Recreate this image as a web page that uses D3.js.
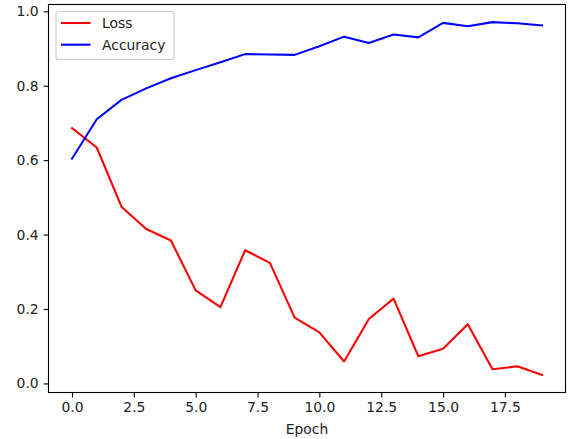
<!DOCTYPE html>
<html>
<head>
<meta charset="utf-8">
<script src="https://cdn.jsdelivr.net/npm/d3@7"></script>
<style>
html,body{margin:0;padding:0;background:#fff;}
text{font-family:"DejaVu Sans",sans-serif;}
</style>
</head>
<body>
<svg id="chart" width="572" height="439"></svg>
<script>
const epochs = d3.range(0, 20);
const loss = [0.686, 0.634, 0.475, 0.415, 0.384, 0.250, 0.205, 0.358, 0.324, 0.177, 0.137, 0.059, 0.173, 0.228, 0.073, 0.093, 0.159, 0.038, 0.046, 0.023];
const accuracy = [0.604, 0.710, 0.762, 0.793, 0.820, 0.842, 0.863, 0.885, 0.884, 0.883, 0.906, 0.932, 0.915, 0.938, 0.930, 0.969, 0.960, 0.971, 0.968, 0.962];
const xTicks = [0, 2.5, 5, 7.5, 10, 12.5, 15, 17.5];
const yTicks = [0, 0.2, 0.4, 0.6, 0.8, 1.0];
const seriesNames = ["Loss", "Accuracy"];
const seriesColors = ["#ff0000", "#0000ff"];

const svg = d3.select("#chart");
const L = 48.5, R = 565.5, T = 4.5, B = 392.5;

const xMin = d3.min(epochs), xMax = d3.max(epochs);
const xPad = (xMax - xMin) * 0.05;
const x = d3.scaleLinear().domain([xMin - xPad, xMax + xPad]).range([L, R]);
const all = loss.concat(accuracy);
const yMin = d3.min(all), yMax = d3.max(all);
const yPad = (yMax - yMin) * 0.05;
const y = d3.scaleLinear().domain([yMin - yPad, yMax + yPad]).range([B, T]);

// axes
const xAxis = d3.axisBottom(x).tickValues(xTicks).tickFormat(d3.format(".1f")).tickSize(4.9).tickPadding(4.9);
const yAxis = d3.axisLeft(y).tickValues(yTicks).tickFormat(d3.format(".1f")).tickSize(4.9).tickPadding(4.9);

const gx = svg.append("g").attr("transform", `translate(0,${B})`).call(xAxis);
const gy = svg.append("g").attr("transform", `translate(${L},0)`).call(yAxis);
[gx, gy].forEach(g => {
  g.select(".domain").remove();
  g.selectAll(".tick line").attr("stroke", "#000").attr("stroke-width", 1.1);
  g.selectAll(".tick text").attr("fill", "#222").style("font-size", "13.9px").style("font-family", "DejaVu Sans");
});

// lines
const line = d3.line().x((d, i) => x(epochs[i])).y(d => y(d));
[loss, accuracy].forEach((s, k) => {
  svg.append("path").datum(s)
    .attr("fill", "none")
    .attr("stroke", seriesColors[k])
    .attr("stroke-width", 2.08)
    .attr("stroke-linejoin", "round")
    .attr("stroke-linecap", "square")
    .attr("d", line);
});

// frame
svg.append("rect").attr("x", L).attr("y", T).attr("width", R - L).attr("height", B - T)
  .attr("fill", "none").attr("stroke", "#000").attr("stroke-width", 1.1);

// x label
svg.append("text").attr("x", (L + R) / 2).attr("y", 434)
  .attr("text-anchor", "middle").style("font-size", "13.9px").attr("fill", "#222").text("Epoch");

// legend
const lg = svg.append("g");
lg.append("rect").attr("x", 56).attr("y", 11.5).attr("width", 118).attr("height", 48).attr("rx", 3)
  .attr("fill", "#fff").attr("fill-opacity", 0.8).attr("stroke", "#cccccc").attr("stroke-width", 1.1);
seriesNames.forEach((n, k) => {
  const yy = 23 + k * 21.7;
  lg.append("line").attr("x1", 61).attr("x2", 90.5).attr("y1", yy).attr("y2", yy)
    .attr("stroke", seriesColors[k]).attr("stroke-width", 2.08);
  lg.append("text").attr("x", 102).attr("y", yy + 5).style("font-size", "13.9px").attr("fill", "#222").text(n);
});
</script>
</body>
</html>
